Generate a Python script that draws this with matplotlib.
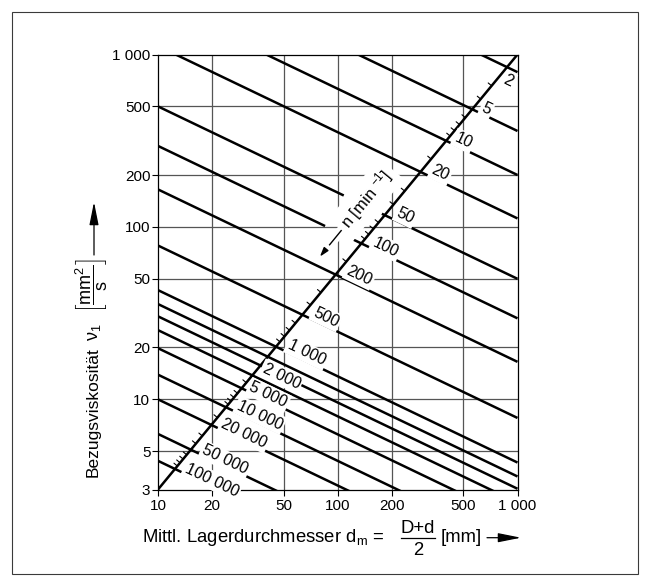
import numpy as np
import matplotlib
matplotlib.use("Agg")
import matplotlib.pyplot as plt
from matplotlib.patches import Rectangle, FancyArrowPatch
from matplotlib.lines import Line2D
import matplotlib.patheffects as pe

plt.rcParams['font.family'] = ['Liberation Sans', 'DejaVu Sans']
plt.rcParams['mathtext.fontset'] = 'custom'
plt.rcParams['mathtext.rm'] = 'Liberation Sans'
plt.rcParams['mathtext.it'] = 'Liberation Sans:italic'
plt.rcParams['mathtext.bf'] = 'Liberation Sans:bold'

# Speed lines n [1/min]: reference viscosity at dm = 10 mm and dm = 1000 mm
speeds = [2, 5, 10, 20, 50, 100, 200, 500, 1000, 1500, 2000, 3000, 5000,
          10000, 20000, 50000, 100000]
nu_at_10 = [7900, 3600, 2000, 1120, 500, 295, 165, 78, 43, 35.7, 30.3, 25.2,
            19.8, 13.9, 10.0, 6.3, 4.4]
nu_at_1000 = [790, 360, 200, 112, 50, 29.5, 16.5, 7.8, 4.3, 3.57, 3.03, 2.52,
              1.98, 1.39, 1.0, 0.63, 0.44]

# Labelled speeds and the text written next to them
label_speeds = [2, 5, 10, 20, 50, 100, 200, 500, 1000, 2000, 5000, 10000,
                20000, 50000, 100000]
label_texts = ["2", "5", "10", "20", "50", "100", "200", "500", "1 000",
               "2 000", "5 000", "10 000", "20 000", "50 000", "100 000"]

# Intermediate speeds marked on the n scale
minor_speeds = [3, 4, 6, 7, 8, 9, 15, 30, 40, 60, 70, 80, 90, 150, 300, 400,
                600, 700, 800, 900, 4000, 6000, 7000, 8000, 9000, 15000,
                30000, 40000, 60000, 70000, 80000, 90000]

# Axis ticks
x_ticks = [10, 20, 50, 100, 200, 500, 1000]
y_ticks = [3, 5, 10, 20, 50, 100, 200, 500, 1000]

# n scale runs corner to corner
diag_dm = [10, 1000]
diag_nu = [3, 1000]

# ---- layout / styling ----
label_pos = [(891, 703), (673, 485), (501, 316), (373, 205), (238, 116),
             (185, 76.2), (132, 52.2), (86.1, 29.9), (67.1, 18.6),
             (48.6, 13.6), (41.1, 10.6), (36.9, 8.1), (30.1, 6.3),
             (23.6, 4.45), (19.9, 3.4)]
line_gaps = {50: (108, 176), 100: (85, 123)}

W, H = 650, 584


def fx(px):
    return px / W


def fy(py):
    return 1 - py / H


fig = plt.figure(figsize=(W / 100, H / 100), dpi=100)
fig.patches.append(Rectangle((fx(12), fy(573.5)), (638 - 12) / W,
                             (573.5 - 11.5) / H, transform=fig.transFigure,
                             fill=False, ec='#3a3a3a', lw=0.8))

ax = fig.add_axes([fx(158), fy(489.5), (517.5 - 158) / W, (489.5 - 54.5) / H])
ax.set_xscale('log')
ax.set_yscale('log')
ax.set_xlim(10, 1000)
ax.set_ylim(3, 1000)


def fmt(v):
    return f"{v:,}".replace(",", " ")


ax.set_xticks(x_ticks, [fmt(v) for v in x_ticks])
ax.set_yticks(y_ticks, [fmt(v) for v in y_ticks])
ax.minorticks_off()
ax.tick_params(direction='out', length=4.5, width=0.8, labelsize=11,
               colors='black', pad=2)
ax.tick_params(axis='y', pad=1)
for s in ax.spines.values():
    s.set_linewidth(0.9)

grid_kw = dict(color='#555555', lw=0.9, zorder=1)
for x in x_ticks[1:-1]:
    ax.axvline(x, **grid_kw)
for y in y_ticks[1:-1]:
    ax.axhline(y, **grid_kw)

line_kw = dict(color='black', lw=1.8, solid_capstyle='butt', zorder=2)
for n, a, b in zip(speeds, nu_at_10, nu_at_1000):
    slope = np.log10(b / a) / 2.0
    ends = [(10, 1000)]
    if n in line_gaps:
        g0, g1 = line_gaps[n]
        ends = [(10, g0), (g1, 1000)]
    for d0, d1 in ends:
        dm = np.array([d0, d1], dtype=float)
        nu = a * (dm / 10.0) ** slope
        ax.plot(dm, nu, **line_kw)

ax.plot(diag_dm, diag_nu, color='black', lw=1.8, solid_capstyle='butt',
        zorder=2.2)

# position of each speed on the diagonal (fraction t along it)
L3 = np.log10(diag_nu[0])
D = np.log10(diag_nu[1]) - L3
t_anchor = []
for a, b in zip(nu_at_10, nu_at_1000):
    slope = np.log10(b / a) / 2.0
    t_anchor.append((np.log10(a) - L3) / (D - 2 * slope))
logn = np.log10(speeds)
t_minor = np.interp(np.log10(minor_speeds), logn, t_anchor)

fig.canvas.draw()
p0 = ax.transData.transform((diag_dm[0], diag_nu[0]))
p1 = ax.transData.transform((diag_dm[1], diag_nu[1]))
dvec = (p1 - p0) / np.hypot(*(p1 - p0))
perp = np.array([-dvec[1], dvec[0]])
tick_len = 3.2  # points
for t in t_minor:
    dm = 10 ** (np.log10(diag_dm[0]) + 2 * t)
    nu = 10 ** (L3 + D * t)
    ax.annotate('', xy=(dm, nu), xytext=tuple(perp * tick_len),
                textcoords='offset points',
                arrowprops=dict(arrowstyle='-', lw=0.8, color='black',
                                shrinkA=0, shrinkB=0), zorder=2.3)

q0 = ax.transData.transform((10, 100))
q1 = ax.transData.transform((1000, 10))
ang_line = np.degrees(np.arctan2(q1[1] - q0[1], q1[0] - q0[0]))
ang_diag = np.degrees(np.arctan2(dvec[1], dvec[0]))

for txt, (x, y) in zip(label_texts, label_pos):
    ax.text(x, y, txt, rotation=ang_line, rotation_mode='anchor',
            ha='center', va='center', fontsize=11.5, zorder=4,
            bbox=dict(boxstyle='square,pad=0.12', fc='white', ec='none'))

ax.text(144, 145, r"n [min $^{-1}$]", rotation=ang_diag, rotation_mode='anchor',
        ha='center', va='center', fontsize=12, zorder=4,
        bbox=dict(boxstyle='square,pad=0.3', fc='white', ec='none'))
ax.annotate('', xy=(79.4, 67.1), xytext=(107, 98.1),
            arrowprops=dict(arrowstyle='-|>,head_length=0.55,head_width=0.17',
                            lw=1.0, color='black', shrinkA=0, shrinkB=0,
                            path_effects=[pe.withStroke(linewidth=7, foreground='white')]),
            zorder=3.5)

# ---- y axis title ----
fig.text(fx(98), fy(477), "Bezugsviskosität",
         rotation=90, rotation_mode='anchor', ha='left', va='baseline',
         fontsize=12.5)
fig.text(fx(98), fy(341), r"$\mathrm{\nu}_1$",
         rotation=90, rotation_mode='anchor', ha='left', va='baseline',
         fontsize=13)
fig.text(fx(91), fy(285.5),
         r"$\left[\dfrac{\mathrm{mm}^2}{\mathrm{s}}\right]$",
         rotation=90, rotation_mode='anchor', ha='center', va='center',
         fontsize=13)

# ---- x axis title ----
fig.text(fx(142), fy(542), r"Mittl. Lagerdurchmesser d$_\mathrm{m}$ =",
         ha='left', va='baseline', fontsize=13.3)
fig.text(fx(418), fy(533), "D+d", ha='center', va='baseline', fontsize=13.3)
fig.text(fx(418), fy(555), "2", ha='center', va='baseline', fontsize=13.3)
fig.add_artist(Line2D([fx(401), fx(435)], [fy(537.7), fy(537.7)],
                      transform=fig.transFigure, color='black', lw=0.9))
fig.text(fx(441), fy(542), "[mm]", ha='left', va='baseline', fontsize=13.3)

arrow_kw = dict(arrowstyle='-|>,head_length=1.4,head_width=0.28', lw=0.9,
                color='black', shrinkA=0, shrinkB=0)
fig.add_artist(FancyArrowPatch((fx(94), fy(255)), (fx(94), fy(202)),
                               transform=fig.transFigure, mutation_scale=10,
                               **arrow_kw))
fig.add_artist(FancyArrowPatch((fx(487), fy(537.7)), (fx(521), fy(537.7)),
                               transform=fig.transFigure, mutation_scale=10,
                               **arrow_kw))

fig.savefig("out.png", dpi=100)
